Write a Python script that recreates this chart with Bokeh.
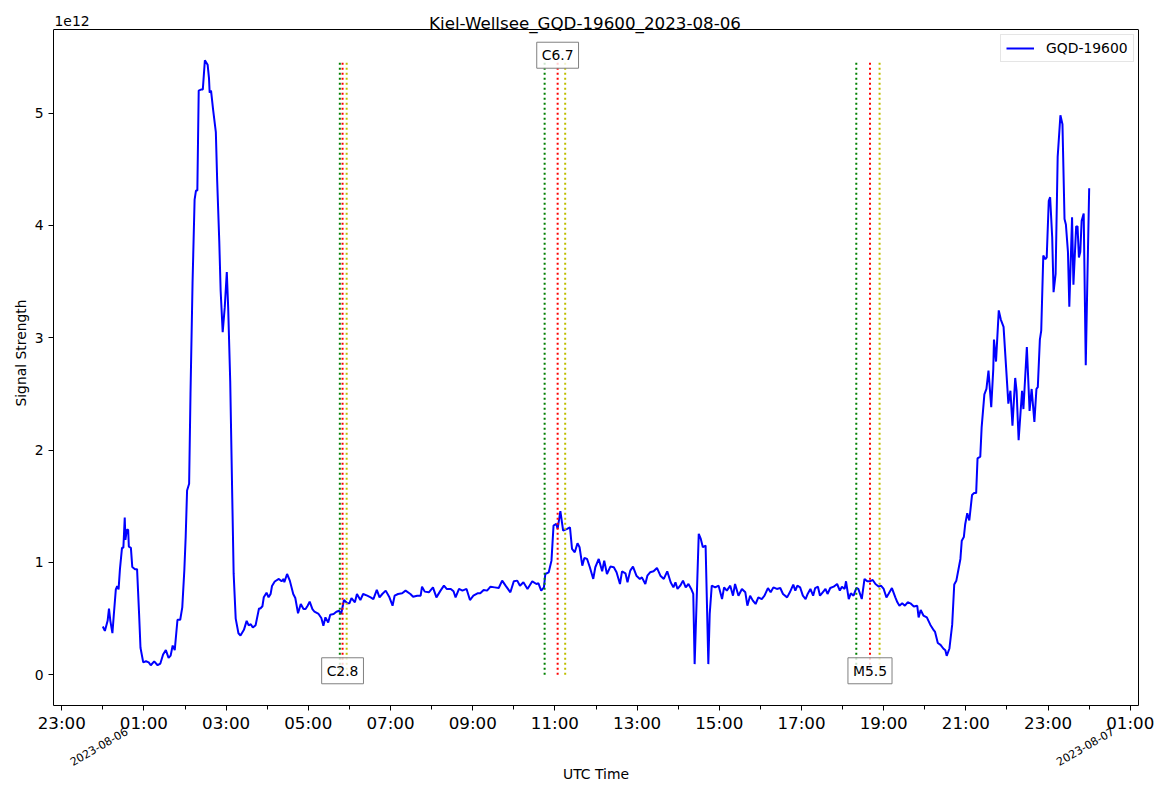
import math
import numpy as np
from bokeh.plotting import figure
from bokeh.models import (Range1d, FixedTicker, Label, ColumnDataSource, LinearAxis, Span)
from bokeh.embed import file_html
from bokeh.resources import INLINE

# ---------------- data ----------------
title_text = "Kiel-Wellsee_GQD-19600_2023-08-06"
station = "GQD-19600"
day_labels = ["2023-08-06", "2023-08-07"]
day_label_hours = [0, 24]
y_ticks = [0, 1, 2, 3, 4, 5]
offset_text = "1e12"

# minutes after 2023-08-06 00:00 UTC
minutes = [
    0, 3, 7, 9, 11, 14, 16, 19, 21, 23, 25, 28, 30, 32, 33, 35, 37, 38, 41, 43, 47, 50, 53, 55, 59,
    63, 67, 70, 75, 80, 84, 88, 92, 96, 99, 102, 105, 109, 113, 116, 119, 121, 123, 126, 128, 131,
    134, 136, 138, 140, 144, 146, 149, 153, 155, 156, 158, 161, 165, 167, 170, 172, 175, 178, 181,
    183, 186, 189, 191, 194, 198, 201, 206, 210, 213, 216, 219, 223, 228, 230, 233, 235, 239, 242,
    245, 247, 251,
    257, 261, 264, 265, 269, 273, 278, 281, 285, 289, 293, 296, 299, 302, 306, 309, 315, 319, 322,
    325, 329, 332, 337, 341, 345, 348, 352, 357, 360, 363, 368, 371, 376, 380, 386, 391, 395, 400,
    404, 408, 413, 418, 423, 426, 431, 437, 442, 449, 453, 459, 464, 466, 470, 476, 482, 487, 493,
    498, 502, 508, 512, 515, 520, 525, 531, 536, 541, 547, 551, 556, 561, 566, 572, 578, 583, 588,
    595, 600, 605, 609, 614, 620, 627, 633, 636, 640, 644, 646, 651, 655, 658, 662, 664, 668, 672,
    678, 682, 685, 689, 693, 696, 700, 703, 707, 711, 716, 719, 724, 729, 732, 736, 741, 746, 750,
    755, 758, 763, 766, 770, 774, 779, 784, 787, 792, 795, 799, 804, 809, 814, 819, 824, 829, 833,
    836, 839, 843, 847, 851, 855, 859, 862, 864, 870, 873, 876, 880, 884, 886, 889, 894, 899, 904,
    907, 911, 916, 920, 923, 928, 933, 938, 941, 945, 949, 953, 957, 962, 966, 971, 975, 979, 984,
    989, 993, 999, 1003, 1008, 1011, 1014, 1018, 1022, 1026, 1029, 1033, 1037, 1040, 1044, 1047,
    1051, 1055, 1058, 1062, 1067, 1072, 1076, 1079, 1083, 1085, 1089, 1092, 1096, 1100, 1103, 1108,
    1112, 1116, 1120, 1124, 1128, 1133, 1136, 1140, 1144, 1147, 1152, 1157, 1160, 1163, 1167, 1171,
    1175, 1179,
    1184, 1189, 1191, 1194, 1198, 1203, 1208, 1213, 1215, 1219, 1223, 1227, 1230, 1232, 1236, 1240,
    1243, 1246, 1249, 1252, 1254, 1257, 1259, 1262, 1265, 1269, 1272, 1275, 1277, 1281, 1283, 1287,
    1290, 1293, 1297, 1300, 1301, 1304, 1308, 1311, 1315, 1319, 1322, 1325, 1328, 1332, 1334, 1337,
    1342, 1344, 1349, 1353, 1356, 1360, 1363, 1365, 1368, 1370, 1373, 1376, 1378, 1381, 1383, 1386,
    1388, 1391, 1394, 1398, 1401, 1404, 1406, 1409, 1411, 1415, 1417, 1421, 1423, 1425, 1427, 1429,
    1432, 1435, 1437, 1440,
]

# signal strength in units of 1e12
signal = [
    0.43, 0.39, 0.48, 0.59, 0.48, 0.37, 0.53, 0.76, 0.79, 0.76, 0.94, 1.13, 1.13, 1.40, 1.20, 1.29,
    1.29, 1.14, 1.13, 0.96, 0.94, 0.94, 0.535, 0.24, 0.11,
    0.12, 0.11, 0.085, 0.12, 0.085, 0.10, 0.18, 0.22, 0.15, 0.17, 0.26, 0.22, 0.49, 0.49, 0.60, 0.93,
    1.23, 1.64, 1.70, 2.50, 3.49,
    4.23, 4.31, 4.31, 5.20, 5.21, 5.21, 5.47, 5.43, 5.31, 5.18, 5.20, 5.03, 4.83, 4.39, 3.86, 3.42,
    3.05, 3.27, 3.585,
    3.27, 2.61, 1.57, 0.90, 0.50, 0.37, 0.35, 0.40, 0.48, 0.44, 0.45, 0.42, 0.44, 0.59, 0.59, 0.61,
    0.69, 0.73, 0.69,
    0.72, 0.79, 0.83,
    0.853, 0.832, 0.853, 0.823, 0.897, 0.838, 0.719, 0.683, 0.547, 0.630, 0.585, 0.585, 0.615, 0.651,
    0.585, 0.561, 0.541, 0.505, 0.437,
    0.511, 0.466, 0.535, 0.541, 0.561, 0.570, 0.541, 0.665, 0.636, 0.636, 0.683, 0.645, 0.719, 0.665,
    0.719, 0.704, 0.689, 0.674, 0.755,
    0.689, 0.719, 0.749, 0.695, 0.615, 0.704, 0.719, 0.725, 0.749, 0.719, 0.695, 0.704, 0.704, 0.784,
    0.740, 0.734, 0.778, 0.689, 0.749,
    0.793, 0.764, 0.764, 0.743, 0.689, 0.764, 0.749, 0.764, 0.665, 0.704, 0.725, 0.725, 0.755, 0.749,
    0.784, 0.778, 0.772, 0.838, 0.793,
    0.734, 0.832, 0.838, 0.793, 0.823, 0.764, 0.832, 0.808, 0.814, 0.749, 0.778, 0.897, 0.912, 1.016,
    1.328, 1.343, 1.298, 1.456, 1.283,
    1.298, 1.313, 1.120, 1.090, 1.170, 1.135, 0.971, 1.040, 1.031, 0.957, 0.853, 0.957, 1.031, 0.921,
    1.016, 0.897, 0.963, 0.957, 0.912,
    0.808, 0.921, 0.903, 0.823, 0.927, 0.963, 0.882, 0.853, 0.867, 0.808, 0.882, 0.912, 0.921, 0.951,
    0.882, 0.853, 0.921, 0.823, 0.778,
    0.823, 0.764, 0.793, 0.838, 0.778, 0.808, 0.764, 0.719, 0.095, 1.254, 1.209, 1.135, 1.150, 0.095,
    0.541, 0.793, 0.778, 0.793, 0.674,
    0.778, 0.749, 0.793, 0.704, 0.808, 0.704, 0.764, 0.734, 0.615, 0.704, 0.660, 0.630, 0.689, 0.674,
    0.704, 0.772, 0.734, 0.778, 0.764,
    0.772, 0.719, 0.689, 0.734, 0.802, 0.749, 0.793, 0.778, 0.704, 0.674, 0.719, 0.764, 0.704, 0.772,
    0.784, 0.704,
    0.734, 0.764, 0.719, 0.772, 0.784, 0.808, 0.749, 0.784, 0.764, 0.832, 0.674, 0.725, 0.704, 0.772,
    0.764, 0.674,
    0.853, 0.832, 0.832, 0.844, 0.808, 0.784, 0.793, 0.764, 0.689, 0.719, 0.772, 0.689, 0.645, 0.615,
    0.636, 0.615,
    0.645, 0.636,
    0.608, 0.614, 0.511, 0.576, 0.527, 0.511, 0.446, 0.397, 0.381, 0.283, 0.266, 0.234, 0.218, 0.169,
    0.234, 0.446,
    0.803, 0.836, 0.933, 1.031, 1.194, 1.226, 1.340, 1.438, 1.373, 1.601, 1.617, 1.617, 1.926, 1.942,
    2.202, 2.496,
    2.544, 2.707, 2.381, 2.723, 2.983, 2.788, 3.243, 3.162, 3.097, 2.707, 2.414, 2.528, 2.218, 2.642,
    2.528, 2.088,
    2.528, 2.365, 2.918, 2.349, 2.544, 2.251, 2.544, 2.56, 2.983, 3.064, 3.731, 3.699, 3.715, 4.219,
    4.251, 3.894,
    3.406, 3.569, 4.61, 4.98, 4.90, 4.056, 4.008, 3.764, 3.275, 4.073, 3.471, 3.991, 3.991, 3.715,
    3.764, 4.04,
    4.105, 2.755, 3.4, 4.33,
]

# flares (minutes after midnight)
flare_classes = ["C2.8", "C6.7", "M5.5"]
flare_start = [346, 645, 1100]
flare_peak = [350, 664, 1120]
flare_end = [356, 675, 1134]
flare_label_at_top = [False, True, False]

assert len(minutes) == len(signal), (len(minutes), len(signal))

# ---------------- layout constants (pixels) ----------------
W, H = 1169, 792
AX_LEFT, AX_RIGHT, AX_TOP, AX_BOTTOM = 53, 1138, 29, 705   # axes box on the canvas
FRAME_W = AX_RIGHT - AX_LEFT
FRAME_H = AX_BOTTOM            # bokeh frame reaches the canvas top so texts above the box show
BOX_H = AX_BOTTOM - AX_TOP

# ---------------- figure ----------------
hours = np.array(minutes) / 60.0
sig = np.array(signal)
vmax = float(sig.max())

xspan = hours.max() - hours.min()
x0, x1 = hours.min() - 0.05 * xspan, hours.max() + 0.05 * xspan
y0, y1 = 0.0 - 0.05 * vmax, vmax + 0.05 * vmax          # matplotlib-like 5% margins
y1_frame = y0 + (y1 - y0) * FRAME_H / BOX_H

p = figure(width=W, height=H, x_range=Range1d(x0, x1), y_range=Range1d(y0, y1_frame),
           output_backend="svg", toolbar_location=None,
           min_border_left=AX_LEFT, min_border_right=W - AX_RIGHT,
           min_border_top=0, min_border_bottom=H - AX_BOTTOM)
p.background_fill_color = "white"
p.border_fill_color = "white"
p.xgrid.visible = False
p.ygrid.visible = False
p.outline_line_color = None

FONT = "DejaVu Sans"

p.line(hours, sig, line_color="blue", line_width=2, legend_label=station)

# flare lines
fl_x, fl_c = [], []
for s, pk, e in zip(flare_start, flare_peak, flare_end):
    fl_x += [s / 60.0, pk / 60.0, e / 60.0]
    fl_c += ["green", "red", "#bfbf00"]
src = ColumnDataSource(dict(x=fl_x, y0=[0.0] * len(fl_x), y1=[vmax] * len(fl_x), c=fl_c))
p.segment(x0="x", y0="y0", x1="x", y1="y1", line_color="c", line_width=2,
          line_dash="2 3", source=src)

for cls, pk, top in zip(flare_classes, flare_peak, flare_label_at_top):
    lab = Label(x=pk / 60.0, y=vmax if top else 0.0, y_offset=5 if top else 4,
                text=cls, text_align="center", text_baseline="middle",
                text_font=FONT, text_font_size="13.9px", text_color="black",
                background_fill_color="white", background_fill_alpha=0.8,
                border_line_color="#808080", border_line_width=1, padding=5)
    p.add_layout(lab)

# top edge of the axes box
p.add_layout(Span(location=y1, dimension="width", line_color="black", line_width=1))

# x axis (hours)
xa = p.xaxis[0]
major = list(range(-1, 26, 2))
minor = list(range(0, 25, 2))
xa.ticker = FixedTicker(ticks=major, minor_ticks=minor)
xa.major_label_overrides = {h: "%02d:00" % (h % 24) for h in major}
xa.major_label_text_font = FONT
xa.major_label_text_font_size = "16.7px"
xa.major_label_text_color = "black"
xa.major_tick_out = 5
xa.major_tick_in = 0
xa.minor_tick_out = 4
xa.minor_tick_in = 0
xa.major_label_standoff = 2
xa.axis_line_color = "black"

# second x axis carrying the rotated date labels and the axis title
px_per_hour = FRAME_W / (x1 - x0)
shift = 24.0 / px_per_hour
date_ticks = [h + shift for h in day_label_hours]
xa2 = LinearAxis(ticker=FixedTicker(ticks=date_ticks, minor_ticks=[]),
                 major_label_overrides={t: s for t, s in zip(date_ticks, day_labels)},
                 major_label_orientation=math.pi / 6)
xa2.axis_line_color = None
xa2.major_tick_line_color = None
xa2.minor_tick_line_color = None
xa2.major_tick_out = 0
xa2.major_tick_in = 0
xa2.major_label_standoff = -5
xa2.major_label_text_font = FONT
xa2.major_label_text_font_size = "11.1px"
xa2.major_label_text_color = "black"
xa2.axis_label = "UTC Time"
xa2.axis_label_text_font = FONT
xa2.axis_label_text_font_size = "13.9px"
xa2.axis_label_text_font_style = "normal"
xa2.axis_label_text_color = "black"
xa2.axis_label_standoff = -7
p.add_layout(xa2, "below")

ya = p.yaxis[0]
ya.ticker = FixedTicker(ticks=y_ticks)
ya.bounds = (y0, y1)
ya.major_label_text_font = FONT
ya.major_label_text_font_size = "13.9px"
ya.major_label_text_color = "black"
ya.major_tick_out = 5
ya.major_tick_in = 0
ya.minor_tick_line_color = None
ya.major_label_standoff = 5
ya.axis_label = "Signal Strength"
ya.axis_label_text_font = FONT
ya.axis_label_text_font_size = "13.9px"
ya.axis_label_text_font_style = "normal"
ya.axis_label_text_color = "black"
ya.axis_label_standoff = 3
ya.axis_line_color = "black"

# right edge of the axes box
ya2 = LinearAxis(ticker=FixedTicker(ticks=[]), bounds=(y0, y1))
ya2.major_label_text_font_size = "0px"
ya2.major_tick_line_color = None
ya2.minor_tick_line_color = None
ya2.axis_line_color = "black"
p.add_layout(ya2, "right")

# title & offset text (frame-relative screen units, y measured up from the box bottom)
p.add_layout(Label(x=584.5 - AX_LEFT, y=AX_BOTTOM - 22.5, x_units="screen", y_units="screen",
                   text=title_text, text_align="center", text_baseline="alphabetic",
                   text_font=FONT, text_font_size="16.7px", text_color="black"))
p.add_layout(Label(x=1, y=AX_BOTTOM - 20, x_units="screen", y_units="screen", text=offset_text,
                   text_align="left", text_baseline="alphabetic",
                   text_font=FONT, text_font_size="13.9px", text_color="black"))

# legend
lg = p.legend[0]
lg.location = (1000 - AX_LEFT, AX_BOTTOM - 62)
lg.padding = 5
lg.spacing = 0
lg.border_line_color = "#cccccc"
lg.border_line_width = 1
lg.background_fill_alpha = 0.8
lg.label_text_font = FONT
lg.label_text_font_size = "13.9px"
lg.label_text_color = "black"
lg.glyph_width = 28
lg.glyph_height = 16
lg.label_height = 16
lg.label_standoff = 12

open("out.html", "w").write(file_html(p, INLINE))
